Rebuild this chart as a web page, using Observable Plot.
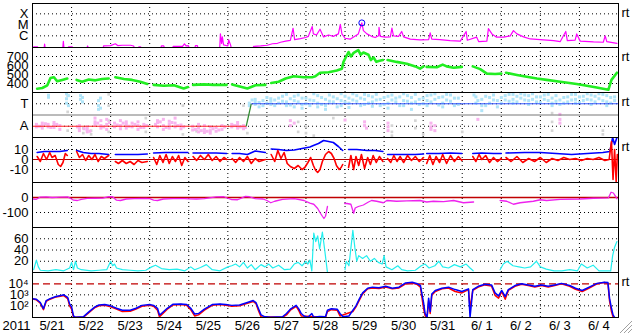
<!DOCTYPE html>
<html><head><meta charset="utf-8">
<script src="https://cdn.jsdelivr.net/npm/d3@7"></script>
<script src="https://cdn.jsdelivr.net/npm/@observablehq/plot@0.6"></script>
<style>
body{margin:0;background:#fff;}
#chart{position:relative;width:633px;height:334px;overflow:hidden;background:#fff;font-family:"Liberation Sans",Arial,sans-serif;}
#chart svg{position:absolute;left:0;overflow:visible;}
</style></head><body><div id="chart"></div>
<script>
// ---------- DATA (time = days since 2011-05-21 00:00 UT) ----------
const yearLabel = "2011";
const dayBoundaries = [1,2,3,4,5,6,7,8,9,10,11,12,13,14];
const dayLabelPos = [0.5,1.5,2.5,3.5,4.5,5.5,6.5,7.5,8.5,9.5,10.5,11.5,12.5,13.5,14.5];
const dayLabels = ["5/21","5/22","5/23","5/24","5/25","5/26","5/27","5/28","5/29","5/30","5/31","6/ 1","6/ 2","6/ 3","6/ 4"];

// X-ray flux (W/m2)
const xrayTicks = [1e-4, 1e-5, 1e-6];
const xrayTickLabels = ["X", "M", "C"];
const xray = [[0.0,5e-8],[0.03,1.0e-7],[0.13,1.0e-7],[0.16,5e-8],[0.29,5e-8],[0.31,1.8e-7],[0.33,5e-8],[0.77,5e-8],[0.79,3.2e-7],[0.81,5e-8],[0.9,5e-8],[0.92,1.0e-7],[1.02,1.0e-7],[1.05,5e-8],
[1.38,5e-8],[1.41,1.2e-7],[1.45,5e-8],[1.8,5e-8],[1.82,1.2e-7],[2.0,1.3e-7],[2.12,1.9e-7],[2.18,1.3e-7],[2.3,1.4e-7],[2.51,1.4e-7],[2.59,1.2e-7],[2.62,5e-8],
[2.7,5e-8],[2.72,1e-7],[2.77,1e-7],[2.8,5e-8],[3.27,5e-8],[3.3,1.2e-7],[3.36,1.2e-7],[3.4,5e-8],[3.58,5e-8],[3.6,1.1e-7],[3.84,1.1e-7],[3.89,1.9e-7],[3.93,1.2e-7],[3.99,1.3e-7],[4.03,5e-8],
[4.15,5e-8],[4.17,1.3e-7],[4.22,1.3e-7],[4.25,5e-8],[4.79,5e-8],[4.81,1.5e-6],[4.84,2e-7],[4.86,8e-7],[4.89,1.5e-7],[5.0,1.2e-7],[5.02,4.4e-7],[5.07,1.5e-7],[5.1,5e-8],
[5.63,5e-8],[5.66,1.1e-7],[5.84,1.2e-7],[6.01,1.4e-7],[6.14,1.9e-7],[6.27,2.1e-7],[6.35,2.6e-7],[6.48,3.3e-7],[6.6,3.8e-7],[6.67,4.9e-6],[6.71,4.5e-7],[6.86,5.5e-7],[6.99,7e-7],[7.06,9e-7],[7.16,7e-6],[7.19,1.5e-6],[7.27,1.2e-6],[7.36,4e-6],[7.45,8e-7],[7.58,1.2e-6],[7.7,9e-7],[7.83,1.5e-6],[7.88,1.1e-5],[7.92,1.5e-6],[8.0,6e-7],[8.13,5e-7],[8.22,8e-7],[8.34,1.5e-6],[8.43,1.5e-5],[8.47,3e-6],[8.56,1.5e-6],[8.68,9e-7],[8.77,7e-7],[8.86,1e-6],[8.87,6e-6],[8.9,9e-7],[9.03,7.6e-7],[9.16,8e-7],[9.2,5e-6],[9.24,1e-6],[9.37,9e-7],[9.45,2.5e-6],[9.5,8e-7],[9.67,5e-7],[9.92,4.3e-7],[10.14,4.5e-7],[10.18,1.9e-6],[10.22,5e-7],[10.43,4.5e-7],[10.69,3.7e-7],[10.95,3.3e-7],[11.1,2.5e-6],[11.13,4e-7],[11.37,7.6e-7],[11.42,3e-7],[11.63,3.3e-7],[11.67,4.5e-6],[11.76,1.5e-6],[11.88,7.6e-7],[12.06,7.6e-7],[12.23,1e-6],[12.31,3e-6],[12.4,1.5e-6],[12.57,8e-7],[12.74,5.2e-7],[13.08,4.3e-7],[13.34,3.7e-7],[13.51,3e-7],[13.65,2.5e-6],[13.69,3.7e-7],[13.89,4e-7],[13.93,1.5e-6],[14.02,3.3e-7],[14.36,2.8e-7],[14.61,2.6e-7],[14.66,1e-6],[14.7,3e-7],[14.96,2.1e-7]];
const xrayPeak = [[8.43, 1.5e-5]];

// Solar wind speed (km/s)
const speedTicks = [400, 500, 600, 700];
const speed = [[0.12,342],[0.25,350],[0.38,380],[0.46,460],[0.55,470],[0.63,425],[0.76,440],[0.89,455],[0.95,null],
[1.13,440],[1.27,420],[1.44,445],[1.61,435],[1.78,450],[1.95,455],[2.0,null],
[2.12,470],[2.34,450],[2.55,440],[2.76,420],[2.94,395],[3.0,null],
[3.1,385],[3.36,375],[3.62,380],[3.87,345],[3.98,360],[4.05,null],
[4.11,385],[4.39,390],[4.64,385],[4.97,385],[5.05,null],
[5.11,390],[5.28,370],[5.5,345],[5.71,380],[5.96,385],[6.05,null],
[6.11,405],[6.3,420],[6.48,455],[6.69,480],[6.94,470],[7.16,470],[7.24,480],[7.36,520],[7.58,525],[7.79,545],[7.92,565],[7.96,640],[8.09,750],[8.15,700],[8.22,740],[8.34,770],[8.4,720],[8.47,745],[8.6,720],[8.66,660],[8.73,690],[8.8,640],[8.86,650],[8.97,660],[9.03,null],
[9.09,660],[9.32,640],[9.58,620],[9.8,590],[9.92,565],[10.01,590],[10.05,null],
[10.09,585],[10.35,580],[10.5,610],[10.6,590],[10.78,575],[10.99,585],[11.1,null],
[11.27,590],[11.46,560],[11.63,510],[11.84,505],[12.0,510],[12.06,null],
[12.12,520],[12.4,495],[12.65,475],[12.91,455],[13.16,440],[13.51,420],[13.93,395],[14.19,375],[14.44,355],[14.74,330],[14.82,440],[14.96,520]];

// IMF sector (longitude angle, deg): T = toward, A = away
const sectorTicks = [315, 135];
const sectorTickLabels = ["T", "A"];
const sectorMid = [225];
const sectorTimes = [0, 5.47, 5.6, 15];
const sectorStates = ["A", "A", "T", "T"];
const towardPts = [[0.41,383],[0.41,367],[0.87,395],[0.87,355],[0.87,320],[0.92,300],[0.92,380],[1.23,380],[1.23,350],[1.28,330],[1.28,365],[1.69,340],[1.69,300],[1.69,270],[1.74,360],[1.74,280],
[5.55,320],[5.55,300],[5.62,345],[5.7,350],[5.7,310],[5.7,330],[5.8,325],[5.8,290],[5.9,340],[5.9,300],[6.0,365],[6.0,320],[6.1,335],[6.1,310],[6.1,355],[6.2,345],[6.2,300],[6.3,360],[6.3,320],[6.4,375],[6.4,335],[6.5,390],[6.5,330],[6.5,300],[6.6,355],[6.6,305],[6.7,375],[6.7,340],[6.7,290],[6.8,385],[6.8,330],[6.9,360],[6.9,310],[6.9,280],[7.0,360],[7.0,315],[7.1,345],[7.1,300],[7.2,395],[7.2,340],[7.3,380],[7.3,320],[7.3,290],[7.4,365],[7.4,310],[7.5,350],[7.5,300],[7.5,270],[7.6,385],[7.6,335],[7.7,370],[7.7,330],[7.8,355],[7.8,290],[7.9,395],[7.9,340],[7.9,300],[8.0,375],[8.0,330],[8.1,360],[8.1,320],[8.1,285],[8.2,395],[8.2,345],[8.3,380],[8.3,335],[8.4,360],[8.4,300],[8.5,390],[8.5,350],[8.5,310],[8.6,380],[8.6,320],[8.7,370],[8.7,330],[8.7,295],[8.8,390],[8.8,345],[8.9,350],[8.9,300],[9.0,365],[9.0,310],[9.1,375],[9.1,320],[9.1,280],[9.2,385],[9.2,345],[9.3,360],[9.3,330],[9.4,370],[9.4,300],[9.5,395],[9.5,340],[9.5,300],[9.6,380],[9.6,335],[9.7,365],[9.7,320],[9.7,270],[9.8,390],[9.8,330],[9.9,350],[9.9,310],[10.0,360],[10.0,315],[10.1,380],[10.1,340],[10.1,300],[10.2,385],[10.2,330],[10.3,395],[10.3,350],[10.4,365],[10.4,305],[10.5,370],[10.5,320],[10.5,290],[10.6,390],[10.6,345],[10.7,385],[10.7,335],[10.8,360],[10.8,300],[10.9,360],[10.9,310],
[11.3,385],[11.35,370],[11.35,320],[11.4,340],[11.5,350],[11.5,300],[11.5,260],[11.6,375],[11.6,300],[11.7,365],[11.7,320],[11.8,385],[11.8,345],[11.9,340],[11.9,290],[12.0,365],[12.0,320],[12.1,380],[12.1,345],[12.2,390],[12.2,335],[12.3,390],[12.3,350],[12.3,320],[12.4,375],[12.4,330],[12.5,395],[12.5,360],[12.6,385],[12.6,345],[12.7,380],[12.7,340],[12.7,310],[12.8,395],[12.8,350],[12.9,370],[12.9,330],[13.0,370],[13.0,325],[13.1,385],[13.1,350],[13.2,390],[13.2,340],[13.3,360],[13.3,320],[13.3,300],[13.4,380],[13.4,335],[13.5,345],[13.5,310],[13.6,365],[13.6,320],[13.7,370],[13.7,330],[13.8,390],[13.8,345],[13.9,390],[13.9,350],[13.9,320],[14.0,370],[14.0,325],[14.1,375],[14.1,340],[14.2,395],[14.2,350],[14.3,385],[14.3,345],[14.3,310],[14.4,375],[14.4,330],[14.5,395],[14.5,355],[14.6,390],[14.6,340],[14.7,380],[14.7,330],[14.7,300],[14.8,365],[14.8,320],[14.9,370],[14.9,340]];
const awayPts = [[0.1,150],[0.1,130],[0.17,135],[0.25,140],[0.25,160],[0.25,120],[0.33,155],[0.4,130],[0.4,150],[0.47,125],[0.55,145],[0.55,125],[0.55,165],[0.62,150],[0.7,140],[0.7,110],[1.15,130],[1.2,120],[1.2,100],[1.2,140],[1.32,115],[1.4,110],[1.4,90],[1.4,130],[1.47,95],[1.6,150],[1.6,170],[1.6,200],[1.67,160],[1.75,180],[1.75,140],[1.75,120],[1.82,130],[1.9,190],[1.9,150],[1.9,110],[1.97,165],[2.1,160],[2.1,130],[2.17,145],[2.25,180],[2.25,140],[2.25,115],[2.32,160],[2.4,150],[2.4,120],[2.4,170],[2.47,135],[2.55,130],[2.55,160],[2.62,150],[2.7,170],[2.7,140],[2.7,110],[2.77,125],[2.85,150],[2.85,125],[2.92,140],
[3.15,150],[3.2,165],[3.2,130],[3.2,180],[3.27,170],[3.35,140],[3.35,110],[3.35,190],[3.42,125],[3.5,175],[3.5,150],[3.5,120],[3.57,165],[3.65,130],[3.65,160],[3.65,200],[3.72,140],[3.8,145],[3.8,115],[3.87,130],[4.1,135],[4.1,105],[4.17,110],[4.25,120],[4.25,90],[4.25,150],[4.32,100],[4.4,110],[4.4,85],[4.4,140],[4.47,95],[4.55,100],[4.55,80],[4.55,130],[4.62,115],[4.7,95],[4.7,125],[4.77,105],[4.85,140],[4.85,110],[4.92,130],[5.1,150],[5.1,130],[5.17,140],[5.25,145],[5.25,120],[5.25,165],[5.32,130],[5.4,140],[5.4,115],[5.45,125],
[6.6,180],[6.6,140],[6.7,160],[8.0,185],[8.5,170],[8.5,140],[8.55,120],[9.1,160],[9.1,130],[9.1,100],[10.2,160],[10.2,130],[10.2,110],[10.3,100],[10.3,140],[11.4,190],[13.5,230],[13.5,190],[13.5,160]];
const grayPts = [[0.9,380],[0.9,250],[0.9,100],[1.3,120],[1.3,80],[1.5,100],[1.5,70],[1.95,390],[1.95,300],[1.95,180],[1.95,90],[2.9,90],[2.9,200],[3.85,300],[3.85,70],[4.2,95],[5.4,300],[5.4,120],[5.5,80],[6.8,170],[6.8,90],[7.0,130],[7.0,80],[7.2,60],[7.7,200],[9.2,140],[9.2,90],[9.2,60],[9.8,180],[9.8,120],[10.0,70],[11.0,90],[13.3,240],[13.3,170],[13.3,100],[14.6,100],[14.6,70]];

// IMF Bt (blue) and Bz (red), nT
const imfTicks = [10, 0, -10];
const bt = [[0.12,7],[0.3,8],[0.5,8],[0.7,8],[0.89,9],[0.95,null],
[1.13,9],[1.3,7],[1.5,6],[1.7,6],[1.95,5],[2.0,null],
[2.12,5],[2.4,5],[2.7,5],[2.94,5.5],[3.0,null],
[3.1,6.5],[3.4,7],[3.7,7],[3.98,7],[4.05,null],
[4.11,6.5],[4.4,6.5],[4.7,6.5],[4.97,6],[5.05,null],
[5.11,6],[5.3,6],[5.5,5],[5.7,8.5],[5.96,7],[6.05,null],
[6.11,10.5],[6.3,10],[6.5,9],[6.7,9.5],[6.9,11],[7.1,12.5],[7.19,14],[7.32,16],[7.45,19],[7.58,18],[7.7,17],[7.83,13],[7.94,9],[7.98,null],
[8.09,10],[8.3,10],[8.56,9],[8.77,9],[8.97,8],[9.03,null],
[9.09,5],[9.5,5],[9.8,5],[10.01,5.5],[10.05,null],
[10.09,6],[10.4,6],[10.7,6.5],[10.99,6],[11.1,null],
[11.27,6],[11.5,6.5],[11.8,6],[12.0,6],[12.06,null],
[12.12,6.5],[12.6,7],[13.0,7],[13.4,6],[13.8,5],[14.2,6],[14.6,7],[14.78,8],[14.85,22],[14.9,15],[14.96,22]];
const bz = [[0.12,3],[0.2,-2],[0.28,6],[0.36,0],[0.44,7],[0.5,2],[0.58,4],[0.66,-5],[0.72,-7],[0.78,-3],[0.84,6],[0.89,4],[0.95,null],
[1.13,8],[1.2,2],[1.28,5],[1.36,-1],[1.44,4],[1.52,0],[1.6,5],[1.68,-2],[1.76,3],[1.84,1],[1.95,4],[2.0,null],
[2.12,-2],[2.2,-4],[2.3,-1],[2.4,-4],[2.5,-2],[2.6,-5],[2.7,-1],[2.8,-3],[2.94,-2],[3.0,null],
[3.1,2],[3.18,-5],[3.26,4],[3.34,-3],[3.42,5],[3.5,-4],[3.58,3],[3.66,-2],[3.74,4],[3.82,-6],[3.9,2],[3.98,-2],[4.05,null],
[4.11,3],[4.2,-1],[4.3,4],[4.4,0],[4.5,5],[4.6,-1],[4.7,3],[4.8,-2],[4.9,2],[4.97,0],[5.05,null],
[5.11,1],[5.2,-3],[5.3,2],[5.4,-2],[5.5,3],[5.6,-4],[5.7,1],[5.8,-2],[5.96,0],[6.05,null],
[6.11,5],[6.2,-2],[6.28,9],[6.36,1],[6.44,7],[6.52,-4],[6.6,-7],[6.7,-9],[6.8,-6],[6.9,-10],[6.97,-8],[7.05,-3],[7.12,2],[7.19,-6],[7.25,-11],[7.3,-13],[7.36,-10],[7.42,-2],[7.5,5],[7.58,8],[7.65,6],[7.72,1],[7.78,-6],[7.85,-10],[7.9,-8],[7.94,-5],[7.98,null],
[8.09,-8],[8.15,4],[8.22,-10],[8.28,3],[8.35,-6],[8.42,5],[8.5,-9],[8.58,2],[8.65,-5],[8.72,4],[8.8,-3],[8.88,3],[8.97,-2],[9.03,null],
[9.09,1],[9.17,-3],[9.25,4],[9.33,-2],[9.41,3],[9.5,-3],[9.6,4],[9.7,-1],[9.8,3],[9.9,-2],[10.01,2],[10.05,null],
[10.09,-4],[10.17,4],[10.25,-5],[10.33,3],[10.42,-3],[10.5,5],[10.6,-4],[10.7,4],[10.8,-2],[10.9,3],[10.99,-1],[11.1,null],
[11.27,3],[11.35,-2],[11.43,5],[11.5,0],[11.6,4],[11.7,-3],[11.8,2],[11.9,-2],[12.0,1],[12.06,null],
[12.12,2],[12.25,-2],[12.4,3],[12.55,-3],[12.7,1],[12.85,-2],[13.0,2],[13.15,-3],[13.3,1],[13.45,-1],[13.6,2],[13.75,0],[13.9,1],[14.05,-1],[14.2,1],[14.35,0],[14.5,2],[14.65,-1],[14.76,0],[14.82,18],[14.86,-20],[14.9,10],[14.94,-22],[14.97,5]];

// Dst index (nT)
const dstTicks = [0, -100];
const dst = [[0.0,-10],[0.1,-12],[0.2,3],[0.35,4],[0.5,0],[0.7,2],[0.9,4],[1.0,-10],[1.05,-18],[1.15,-20],[1.25,-12],[1.4,-6],[1.6,-5],[1.8,-4],[1.95,6],[2.05,5],[2.15,-18],[2.25,-20],[2.4,-10],[2.6,-7],[2.9,-6],[3.0,-8],[3.1,-18],[3.2,-20],[3.35,-10],[3.6,-7],[3.9,-8],[4.0,-9],[4.2,-10],[4.4,-7],[4.7,4],[4.9,5],[5.0,-5],[5.1,-14],[5.25,-15],[5.45,8],[5.55,5],[5.7,-8],[5.9,-10],[6.0,-20],[6.1,-35],[6.2,-25],[6.4,-12],[6.7,-8],[6.95,-20],[7.1,-38],[7.2,-45],[7.3,-73],[7.37,-105],[7.42,-125],[7.46,-140],[7.5,-125],[7.55,-60],[7.6,null],
[7.99,-40],[8.05,-40],[8.15,-45],[8.22,-105],[8.26,-70],[8.34,-60],[8.47,-50],[8.6,-30],[8.68,-20],[8.81,-25],[8.98,-35],[9.07,-20],[9.32,-25],[9.58,-22],[9.92,-20],[10.09,-30],[10.26,-25],[10.52,-28],[10.78,-20],[11.03,-35],[11.29,-30],[11.33,null],
[11.97,-20],[12.14,-25],[12.31,-45],[12.48,-35],[12.82,-25],[13.0,-15],[13.16,-20],[13.51,-12],[14.02,-10],[14.36,-5],[14.74,-3],[14.81,35],[14.87,30],[14.96,-8]];

// Proton density (cyan)
const densTicks = [20, 40, 60];
const density = [[0.03,5],[0.1,22],[0.15,10],[0.2,4],[0.4,3],[0.6,5],[0.8,3],[0.95,8],[1.0,18],[1.05,5],[1.1,20],[1.15,8],[1.25,5],[1.5,3],[1.7,4],[1.9,5],[2.0,20],[2.05,12],[2.1,15],[2.15,8],[2.3,5],[2.5,4],[2.7,3],[2.9,4],[3.05,10],[3.15,13],[3.3,7],[3.5,5],[3.7,6],[3.9,3],[4.05,10],[4.15,5],[4.3,9],[4.45,14],[4.6,5],[4.8,3],[5.0,10],[5.1,12],[5.2,15],[5.3,10],[5.4,18],[5.5,8],[5.6,14],[5.7,5],[5.85,14],[5.95,10],[6.05,15],[6.15,8],[6.3,13],[6.45,5],[6.6,6],[6.7,15],[6.8,18],[6.9,12],[7.0,20],[7.05,15],[7.1,22],[7.15,3],[7.2,70],[7.25,55],[7.3,65],[7.35,42],[7.42,72],[7.48,40],[7.55,0],[7.6,null],
[8.0,5],[8.03,20],[8.1,12],[8.2,75],[8.25,45],[8.3,20],[8.35,30],[8.45,25],[8.55,30],[8.65,20],[8.75,25],[8.85,18],[8.95,15],[9.0,30],[9.05,10],[9.2,5],[9.35,12],[9.45,5],[9.6,3],[9.8,4],[9.95,12],[10.05,15],[10.15,8],[10.3,12],[10.4,20],[10.5,10],[10.65,8],[10.8,14],[10.95,10],[11.1,15],[11.2,8],[11.28,3],[11.33,null],
[11.97,5],[12.05,15],[12.15,20],[12.3,12],[12.45,10],[12.6,8],[12.75,10],[12.9,20],[13.0,10],[13.15,6],[13.35,3],[13.55,3],[13.75,5],[13.95,3],[14.05,15],[14.2,8],[14.35,13],[14.5,3],[14.7,3],[14.8,3],[14.85,30],[14.9,45],[14.96,55]];

// Electron flux (log)
const elecTicks = [100, 1000, 10000];
const elecTickLabels = ["10\u00b2", "10\u00b3", "10\u2074"];
const elecThreshold = [10000];
const elecBlue = [[0.0,450],[0.1,400],[0.2,200],[0.28,55],[0.35,300],[0.45,450],[0.6,700],[0.75,900],[0.8,1000],[0.9,600],[0.95,150],[1.0,80],[1.05,12],[1.1,9],[1.3,10],[1.45,30],[1.6,80],[1.7,120],[1.85,130],[2.0,100],[2.15,60],[2.3,40],[2.5,40],[2.65,60],[2.8,110],[3.0,130],[3.1,110],[3.2,60],[3.25,15],[3.3,20],[3.45,60],[3.6,140],[3.8,150],[3.95,130],[4.05,60],[4.15,18],[4.25,20],[4.4,50],[4.6,130],[4.8,150],[4.95,130],[5.1,110],[5.3,120],[5.5,200],[5.65,300],[5.72,200],[5.78,60],[5.85,15],[5.95,10],[6.1,9],[6.4,10],[6.5,20],[6.6,50],[6.75,110],[6.82,50],[6.88,20],[6.95,12],[7.05,9],[7.15,20],[7.2,9],[7.35,11],[7.5,10],[7.55,40],[7.65,55],[7.8,50],[7.87,20],[7.95,10],[8.1,12],[8.2,40],[8.28,100],[8.37,450],[8.45,1500],[8.58,4000],[8.7,5000],[8.87,4500],[9.04,6000],[9.21,4000],[9.38,5000],[9.55,12000],[9.72,14000],[9.85,10000],[9.93,7000],[10.01,200],[10.05,20],[10.1,9],[10.14,500],[10.18,30],[10.22,1200],[10.31,2500],[10.48,4000],[10.65,5000],[10.82,3000],[10.99,2000],[11.16,3500],[11.2,9],[11.27,3000],[11.41,6000],[11.58,9000],[11.75,8000],[11.84,1500],[11.93,800],[12.01,2500],[12.1,700],[12.18,3000],[12.35,7000],[12.52,10000],[12.69,8000],[12.86,6000],[13.03,8000],[13.2,6000],[13.37,8000],[13.54,11000],[13.75,7000],[13.9,4000],[14.07,2500],[14.25,5000],[14.45,11000],[14.64,14000],[14.73,13000],[14.77,500],[14.82,60],[14.86,15],[14.9,9]];
const elecRed = [[0.0,420],[0.1,350],[0.2,170],[0.28,45],[0.35,250],[0.45,400],[0.6,650],[0.75,800],[0.8,850],[0.9,450],[0.95,100],[1.0,50],[1.05,9],[1.3,9],[1.45,25],[1.6,70],[1.7,100],[1.85,110],[2.0,80],[2.15,50],[2.3,30],[2.5,32],[2.65,50],[2.8,90],[3.0,110],[3.1,90],[3.2,40],[3.25,10],[3.3,15],[3.45,50],[3.6,120],[3.8,130],[3.95,110],[4.05,45],[4.15,12],[4.25,15],[4.4,40],[4.6,110],[4.8,130],[4.95,110],[5.1,90],[5.3,100],[5.5,170],[5.65,250],[5.72,160],[5.78,40],[5.85,10],[6.4,9],[6.5,15],[6.6,40],[6.75,90],[6.82,35],[6.88,12],[7.5,9],[7.55,30],[7.65,45],[7.8,40],[7.87,12],[8.2,30],[8.28,80],[8.37,350],[8.45,1200],[8.58,3500],[8.7,4200],[8.87,3800],[9.04,5000],[9.21,3500],[9.38,4200],[9.55,10000],[9.72,12000],[9.85,8500],[9.93,5000],[10.01,60],[10.05,12],[10.1,9],[10.14,300],[10.18,20],[10.22,900],[10.31,2000],[10.48,3500],[10.65,4200],[10.82,2000],[10.99,1500],[11.16,3000],[11.2,60],[11.27,2500],[11.41,5000],[11.58,8000],[11.75,6500],[11.84,900],[11.93,500],[12.01,2000],[12.1,400],[12.18,2500],[12.35,6000],[12.52,9000],[12.69,7000],[12.86,5000],[13.03,7000],[13.2,5000],[13.37,7000],[13.54,10000],[13.75,6000],[13.9,3200],[14.07,2000],[14.25,4200],[14.45,10000],[14.64,13000],[14.73,11000],[14.77,300],[14.82,30],[14.86,10]];

// ---------- RENDER ----------
const chart = document.getElementById("chart");
const FONT = '"Liberation Sans", Arial, Helvetica, sans-serif';
const dotted = {stroke: "#000", strokeOpacity: 1, strokeDasharray: "1,3"};
const X = d => d[0], Y = d => d[1];
const labelFrom = (vals, labs) => d => labs[vals.indexOf(d)];
const rt = () => Plot.text(["rt"], {frameAnchor: "top-right", dx: 3, dy: 9, textAnchor: "start", lineAnchor: "middle", fontSize: 13, fill: "#000"});

function panel(top, height, yOpts, marks, marginBottom = 0) {
  const svg = Plot.plot({
    width: 633, height: height + marginBottom,
    marginLeft: 32, marginRight: 15, marginTop: 0, marginBottom,
    x: {domain: [0, 15], axis: null},
    y: {...yOpts, axis: null},
    style: {background: "none", overflow: "visible", fontSize: "13px", fontFamily: FONT, color: "#000"},
    marks
  });
  svg.style.top = top + "px";
  chart.appendChild(svg);
  return svg;
}
const yAxis = (ticks, fmt) => Plot.axisY(ticks, {tickSize: 0, tickPadding: 4, tickFormat: fmt, fontSize: 13, fill: "#000"});

// 1. X-ray
panel(3, 44, {type: "log", domain: [8.7e-8, 8.7e-4]}, [
  Plot.gridX(dayBoundaries, dotted),
  Plot.gridY(xrayTicks, dotted),
  Plot.line(xray, {x: X, y: Y, stroke: "#ff00ff", strokeWidth: 1.2, clip: true}),
  Plot.dot(xrayPeak, {x: X, y: Y, r: 3, stroke: "#0000ff", fill: "none", strokeWidth: 1}),
  yAxis(xrayTicks, labelFrom(xrayTicks, xrayTickLabels)),
  Plot.frame({stroke: "#000"}),
  rt()
]);

// 2. Solar wind speed
panel(47, 45, {domain: [300, 800]}, [
  Plot.gridX(dayBoundaries, dotted),
  Plot.gridY(speedTicks, dotted),
  Plot.line(speed, {x: X, y: Y, stroke: "#22ee22", strokeWidth: 2.6, clip: true}),
  yAxis(speedTicks, d => String(d)),
  Plot.frame({stroke: "#000"}),
  rt()
]);

// 3. IMF sector
const sectorAngle = {T: 315, A: 135};
const sectorSegs = sectorTimes.slice(1).map((t, i) => ({
  x1: sectorTimes[i], x2: t,
  y1: sectorAngle[sectorStates[i]], y2: sectorAngle[sectorStates[i + 1]],
  c: sectorStates[i] !== sectorStates[i + 1] ? "#2e8b2e" : (sectorStates[i] === "T" ? "#3355ff" : "#ff2222")
}));
panel(92, 45, {domain: [45, 405]}, [
  Plot.gridX(dayBoundaries, dotted),
  Plot.gridY(sectorTicks, dotted),
  Plot.dot(grayPts, {x: X, y: Y, symbol: "square", r: 1.5, fill: "#d4d4d4", stroke: null, clip: true}),
  Plot.dot(awayPts, {x: X, y: Y, symbol: "square", r: 1.7, fill: "#f8b4ee", stroke: null, clip: true}),
  Plot.dot(towardPts, {x: X, y: Y, symbol: "square", r: 1.7, fill: "#b0e4f8", stroke: null, clip: true}),
  Plot.ruleY(sectorMid, {stroke: "#777"}),
  Plot.link(sectorSegs, {x1: "x1", x2: "x2", y1: "y1", y2: "y2", stroke: "c", strokeWidth: 1.2}),
  yAxis(sectorTicks, labelFrom(sectorTicks, sectorTickLabels)),
  Plot.frame({stroke: "#000"}),
  rt()
]);

// 4. IMF Bt / Bz
panel(137, 45, {domain: [-23, 22]}, [
  Plot.gridX(dayBoundaries, dotted),
  Plot.gridY([10, -10], dotted),
  Plot.line(bt, {x: X, y: Y, stroke: "#0000ff", strokeWidth: 1.6, clip: true}),
  Plot.ruleY([0], {stroke: "#b00000"}),
  Plot.line(bz, {x: X, y: Y, stroke: "#ff0000", strokeWidth: 1.6, clip: true}),
  yAxis(imfTicks, d => String(d)),
  Plot.frame({stroke: "#000"}),
  rt()
]);

// 5. Dst
panel(182, 45, {domain: [-200, 100]}, [
  Plot.gridX(dayBoundaries, dotted),
  Plot.gridY([-100], dotted),
  Plot.ruleY([0], {stroke: "#c00000", strokeWidth: 1.5}),
  Plot.line(dst, {x: X, y: Y, stroke: "#ee22ee", strokeWidth: 1.3, clip: true}),
  yAxis(dstTicks, d => String(d)),
  Plot.frame({stroke: "#000"})
]);

// 6. Density
panel(227, 45, {domain: [0, 80]}, [
  Plot.gridX(dayBoundaries, dotted),
  Plot.gridY(densTicks, dotted),
  Plot.line(density, {x: X, y: Y, stroke: "#22eeee", strokeWidth: 1.2, clip: true}),
  yAxis(densTicks, d => String(d)),
  Plot.frame({stroke: "#000"})
]);

// 7. Electron flux + time axis
panel(272, 45, {type: "log", domain: [8.7, 1.07e5]}, [
  Plot.gridX(dayBoundaries, dotted),
  Plot.gridY([100, 1000], dotted),
  Plot.ruleY(elecThreshold, {stroke: "#c00000", strokeWidth: 1.4, strokeDasharray: "7,4"}),
  Plot.line(elecRed, {x: X, y: Y, stroke: "#ff0000", strokeWidth: 1.5, clip: true}),
  Plot.line(elecBlue, {x: X, y: Y, stroke: "#0000ff", strokeWidth: 1.5, clip: true}),
  yAxis(elecTicks, labelFrom(elecTicks, elecTickLabels)),
  Plot.axisX(dayLabelPos, {tickSize: 0, tickPadding: 3, tickFormat: labelFrom(dayLabelPos, dayLabels), fontSize: 13, fill: "#000"}),
  Plot.text([yearLabel], {frameAnchor: "bottom-left", dx: -16, dy: 3, lineAnchor: "top", textAnchor: "middle", fontSize: 13, fill: "#000"}),
  Plot.frame({stroke: "#000"}),
  rt()
], 17);

// window resize grip (decoration)
const grip = d3.select(chart).append("svg").attr("width", 14).attr("height", 14)
  .style("left", "619px").style("top", "320px");
[[13,1,1,13],[13,5,5,13],[13,9,9,13]].forEach(([a,b,c,d]) => {
  grip.append("line").attr("x1", a).attr("y1", b).attr("x2", c).attr("y2", d).attr("stroke", "#a0a0a0");
  grip.append("line").attr("x1", a).attr("y1", b + 1).attr("x2", c + 1).attr("y2", d).attr("stroke", "#ffffff");
});
</script></body></html>
